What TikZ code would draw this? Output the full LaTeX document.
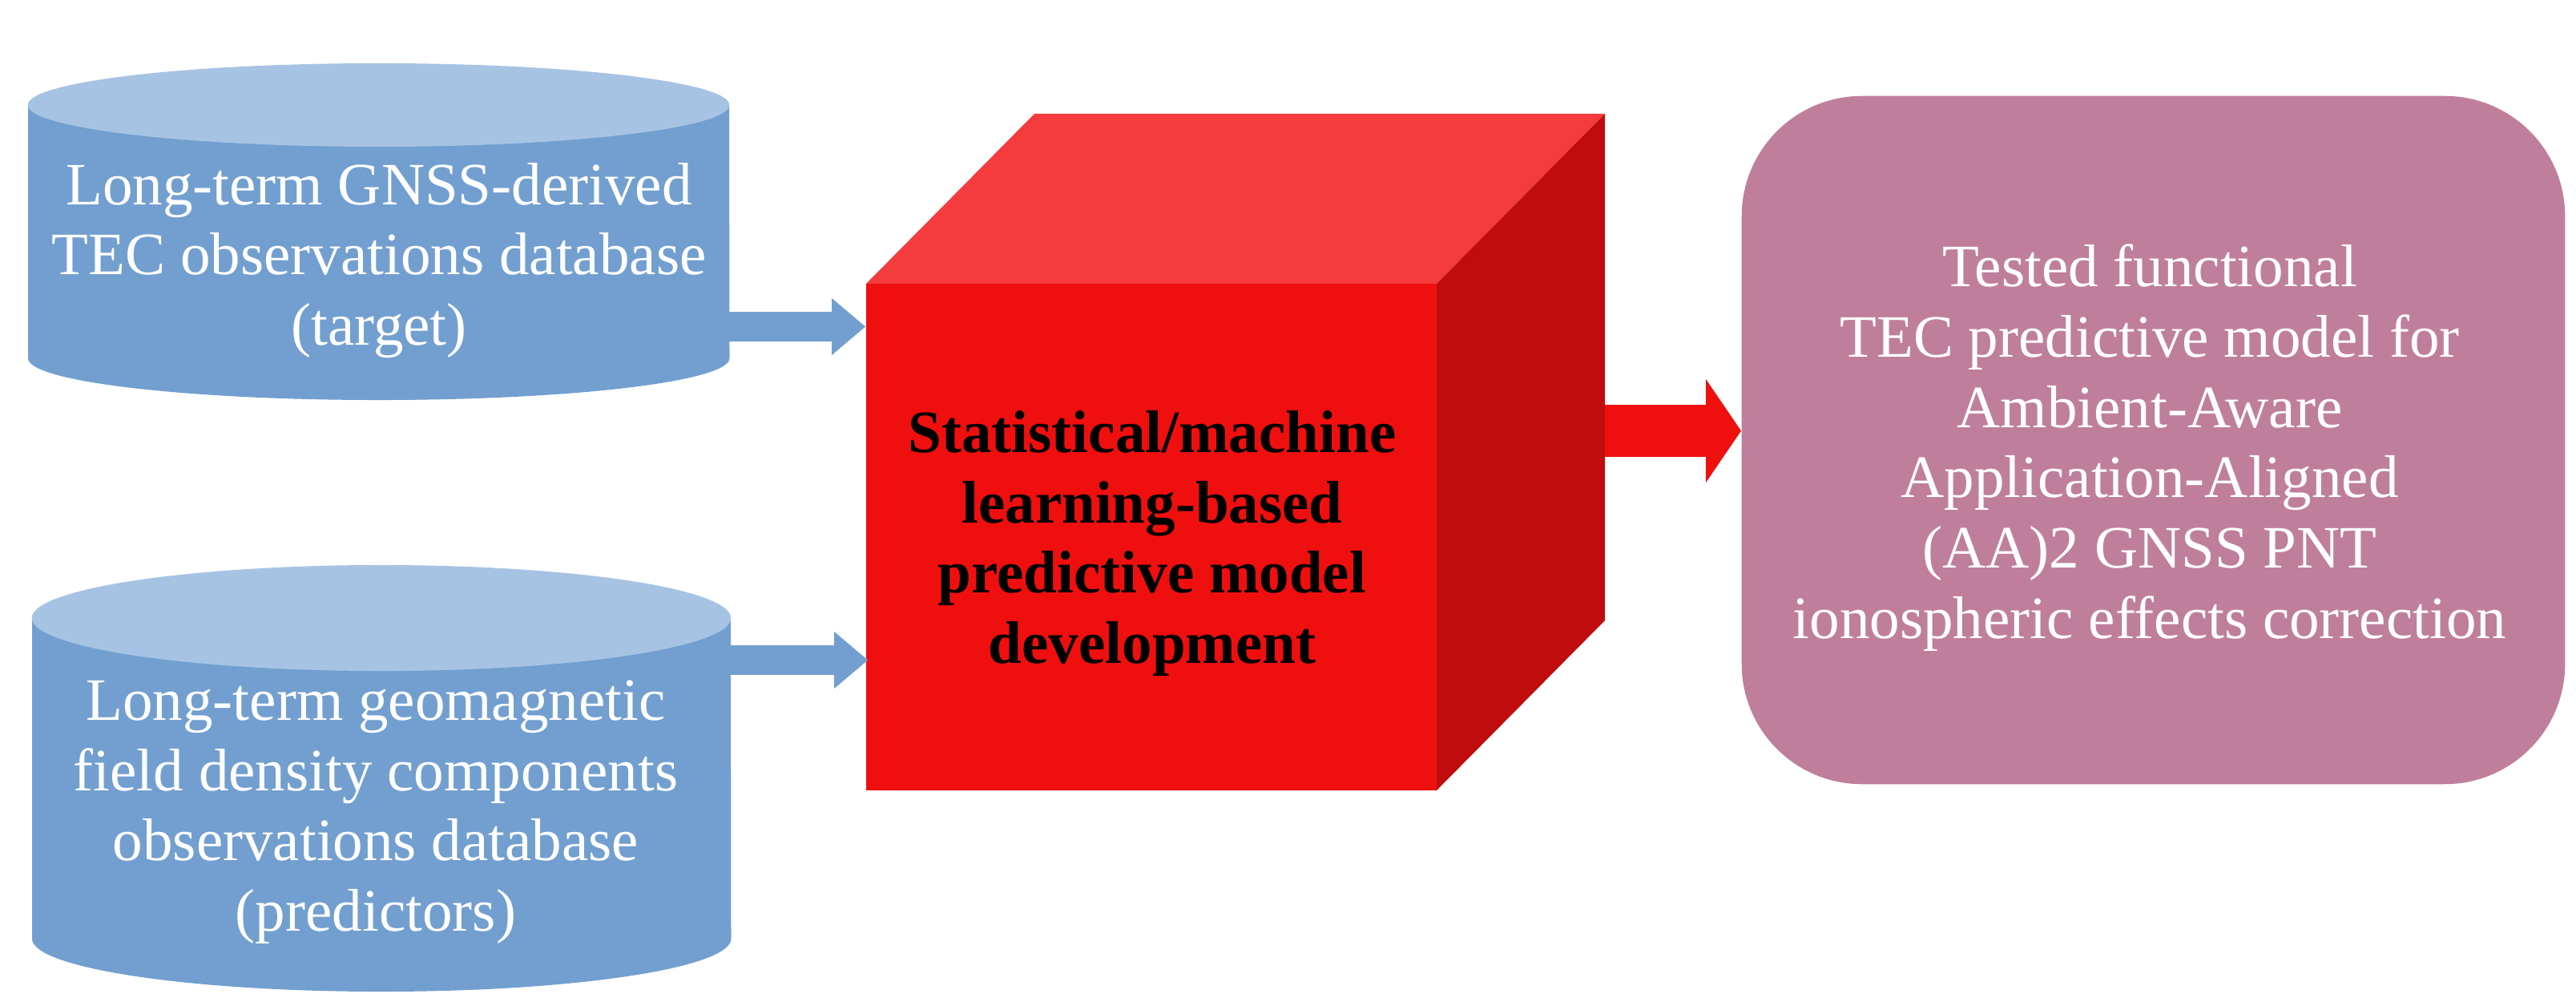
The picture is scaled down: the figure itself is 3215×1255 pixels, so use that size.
\documentclass[tikz,border=0pt]{standalone}
\usepackage{fontspec}
\setmainfont{Liberation Serif}
\usetikzlibrary{arrows.meta}
\definecolor{cylbody}{HTML}{729FCF}
\definecolor{cyltop}{HTML}{A6C3E3}
\definecolor{cubefront}{HTML}{EF0F0F}
\definecolor{cubetop}{HTML}{F43B3E}
\definecolor{cubeside}{HTML}{C00C0C}
\definecolor{outfill}{HTML}{BF7F9B}
\begin{document}
\begin{tikzpicture}[x=0.01cm,y=-0.01cm,
  lbl/.style={align=center,font=\fontsize{21.34pt}{24.93pt}\selectfont,inner sep=0pt},
  bluearrow/.style={draw=cylbody,line width=0.36cm,-{Triangle[width=0.71cm,length=0.42cm,line width=0pt]}},
  redarrow/.style={draw=cubefront,line width=0.65cm,-{Triangle[width=1.29cm,length=0.44cm,line width=0pt]}}]
\useasboundingbox[fill=white] (0,0) rectangle (3215,1255);
% cylinder 1
\fill[cylbody] (35,131) -- (35,447) arc[start angle=180,end angle=360,x radius=4.375cm,y radius=0.52cm] -- (910,131) -- cycle;
\fill[cyltop] (472.5,131) ellipse[x radius=4.375cm,y radius=0.52cm];
\node[lbl,text=white] (c1) at (473,325) {Long-term GNSS-derived\\TEC observations database\\(target)};
\coordinate (c1r) at (910,407.5);
% cylinder 2
\fill[cylbody] (40,771) -- (40,1171) arc[start angle=180,end angle=360,x radius=4.36cm,y radius=0.66cm] -- (912,771) -- cycle;
\fill[cyltop] (476,771) ellipse[x radius=4.36cm,y radius=0.66cm];
\node[lbl,text=white] (c2) at (469,1013) {Long-term geomagnetic\\field density components\\observations database\\(predictors)};
\coordinate (c2r) at (912,823.5);
% cube
\fill[cubetop] (1081,354) -- (1291,142) -- (2003,142) -- (1793,354) -- cycle;
\fill[cubeside] (1793,354) -- (2003,142) -- (2003,774) -- (1793,986) -- cycle;
\node[fill=cubefront,minimum width=7.12cm,minimum height=6.32cm,inner sep=0pt] (cube) at (1437,670) {};
\node[lbl,font=\fontsize{21.34pt}{24.93pt}\selectfont\bfseries] (cubetext) at (1438,678) {Statistical/machine\\learning-based\\predictive model\\development};
\coordinate (cuber) at (2003,537.5);
% output
\node[fill=outfill,rounded corners=1.5cm,minimum width=10.27cm,minimum height=8.58cm,inner sep=0pt] (out) at (2687.5,549) {};
\node[lbl,text=white] (outtext) at (2683,558.5) {Tested functional\\TEC predictive model for\\Ambient-Aware\\Application-Aligned\\(AA)2 GNSS PNT\\ionospheric effects correction};
% arrows
\draw[bluearrow] (c1r) -- (cube.west |- c1r);
\draw[bluearrow] (c2r) -- ([xshift=0.03cm]cube.west |- c2r);
\draw[redarrow] (cuber) -- (out.west |- cuber);
\end{tikzpicture}
\end{document}
